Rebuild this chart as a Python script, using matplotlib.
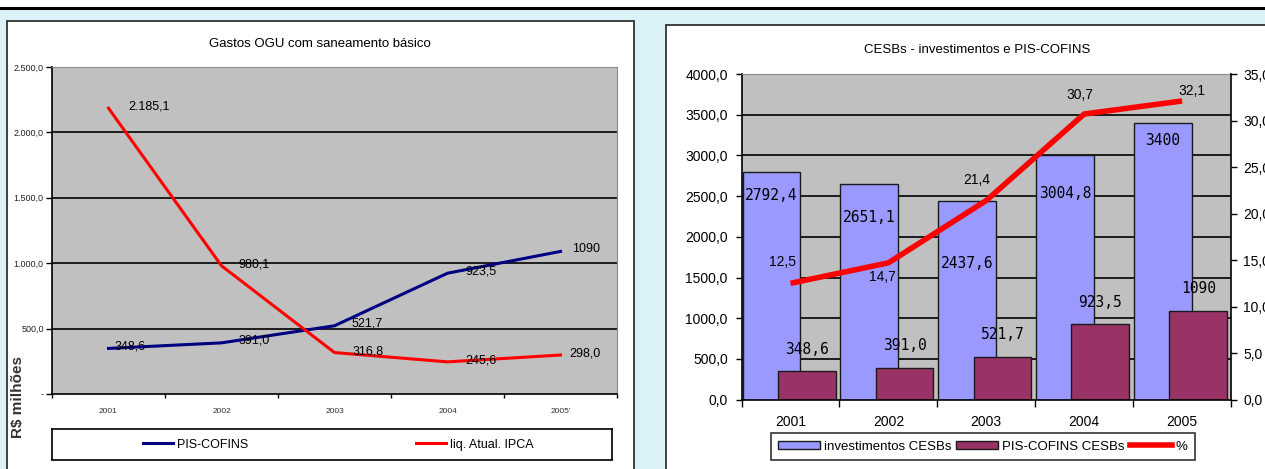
import matplotlib
matplotlib.use("Agg")
import matplotlib.pyplot as plt
from matplotlib.patches import Rectangle, Patch
from matplotlib.lines import Line2D
from matplotlib.ticker import FixedLocator, FuncFormatter, NullFormatter

# ---------------- data ----------------
years_left = ["2001", "2002", "2003", "2004", "2005'"]
pis_cofins = [348.6, 391.0, 521.7, 923.5, 1090]
liq_ipca = [2185.1, 980.1, 316.8, 245.6, 298.0]

years_right = ["2001", "2002", "2003", "2004", "2005"]
invest_cesb = [2792.4, 2651.1, 2437.6, 3004.8, 3400]
pis_cesb = [348.6, 391.0, 521.7, 923.5, 1090]
pct_cesb = [12.5, 14.7, 21.4, 30.7, 32.1]

# ---------------- helpers ----------------
W, H = 1265, 469
SANS = ["Liberation Sans", "DejaVu Sans"]
NARROW = ["Liberation Sans Narrow", "Liberation Sans", "DejaVu Sans"]
MONO = ["DejaVu Sans Mono"]


def fx(px):
    return px / W


def fy(py):
    return 1 - py / H


def br(v, thousands=True):
    """Brazilian number format; integers are shown without decimals."""
    if isinstance(v, int):
        return str(v)
    s = f"{v:,.1f}" if thousands else f"{v:.1f}"
    return s.replace(",", "X").replace(".", ",").replace("X", ".")


fig = plt.figure(figsize=(W / 100, H / 100), dpi=100)
fig.patch.set_facecolor("#dcf2f9")

# slide background pieces
fig.add_artist(Rectangle((0, fy(7)), 1, 7 / H, transform=fig.transFigure,
                         facecolor="white", edgecolor="none", zorder=0))
fig.add_artist(Line2D([0, 1], [fy(8.5), fy(8.5)], transform=fig.transFigure,
                      color="black", lw=2.2, zorder=1))
fig.add_artist(Rectangle((fx(7), fy(480)), fx(634 - 7), (480 - 21) / H,
                         transform=fig.transFigure, facecolor="white",
                         edgecolor="#222222", lw=1.2, zorder=0))
fig.add_artist(Rectangle((fx(666), fy(480)), fx(640), (480 - 25) / H,
                         transform=fig.transFigure, facecolor="white",
                         edgecolor="#222222", lw=1.2, zorder=0))

# =============== left chart: line chart ===============
axl = fig.add_axes([fx(52), fy(394), fx(617 - 52), (394 - 67) / H])
axl.set_facecolor("#c0c0c0")
x = list(range(len(years_left)))
ln_pis, = axl.plot(x, pis_cofins, color="#000080", lw=2.2, zorder=3)
ln_ipca, = axl.plot(x, liq_ipca, color="#ff0000", lw=2.2, zorder=3)
axl.set_xlim(-0.5, 4.5)
axl.set_ylim(0, 2500)
for yv in [500, 1000, 1500, 2000]:
    axl.axhline(yv, color="black", lw=1.2, zorder=1)

axl.yaxis.set_major_locator(FixedLocator([0, 500, 1000, 1500, 2000, 2500]))
axl.yaxis.set_major_formatter(FuncFormatter(lambda v, p: "-" if v == 0 else br(float(v))))
axl.tick_params(axis="y", direction="out", length=4, width=1, pad=2,
                labelsize=6.5, labelcolor="#222222")
axl.xaxis.set_major_locator(FixedLocator([-0.5, 0.5, 1.5, 2.5, 3.5, 4.5]))
axl.xaxis.set_major_formatter(NullFormatter())
axl.xaxis.set_minor_locator(FixedLocator(x))
axl.set_xticklabels(years_left, minor=True)
axl.tick_params(axis="x", which="major", direction="out", length=3, width=1)
axl.tick_params(axis="x", which="minor", length=0, pad=10, labelsize=6,
                labelcolor="#333333")
for lab in axl.get_xticklabels(minor=True) + axl.get_yticklabels():
    lab.set_family(SANS)
for side in ["left", "bottom"]:
    axl.spines[side].set_color("black")
    axl.spines[side].set_linewidth(1.2)
for side in ["top", "right"]:
    axl.spines[side].set_color("#8a8a8a")
    axl.spines[side].set_linewidth(0.8)

# value labels (offsets in points, right of each point)
pis_dx = [4.3, 12.2, 12.2, 13, 8]
ipca_dx = [14.4, 12.2, 13, 13, 6.5]
for i, v in enumerate(pis_cofins):
    axl.annotate(br(v), (i, v), xytext=(pis_dx[i], 1.5), textcoords="offset points",
                 ha="left", va="center", fontsize=9, family=NARROW, color="black",
                 zorder=4)
for i, v in enumerate(liq_ipca):
    axl.annotate(br(v), (i, v), xytext=(ipca_dx[i], 1.0), textcoords="offset points",
                 ha="left", va="center", fontsize=9, family=NARROW, color="black",
                 zorder=4)

fig.text(fx(320), fy(44), "Gastos OGU com saneamento básico", ha="center",
         va="center", fontsize=9.5, family=NARROW)
fig.text(fx(18), fy(397), "R$ milhões", rotation=90, ha="center", va="center",
         fontsize=11, fontweight="bold", family=SANS, color="#333333")

# left legend box with two entries
lax = fig.add_axes([fx(52), fy(460), fx(612 - 52), (460 - 429) / H])
lax.set_xticks([])
lax.set_yticks([])
lax.set_facecolor("white")
for s in lax.spines.values():
    s.set_color("black")
    s.set_linewidth(1.2)
leg_kw = dict(loc="center left", frameon=False, borderpad=0, borderaxespad=0,
              handlelength=2.4, handletextpad=0.3,
              prop={"family": NARROW, "size": 9})
leg_a = lax.legend(handles=[ln_pis], labels=["PIS-COFINS"],
                   bbox_to_anchor=((143 - 52) / 560, 0.5), **leg_kw)
lax.add_artist(leg_a)
lax.legend(handles=[ln_ipca], labels=["liq. Atual. IPCA"],
           bbox_to_anchor=((416 - 52) / 560, 0.5), **leg_kw)

# =============== right chart: bars + percentage line ===============
axr = fig.add_axes([fx(741.6), fy(399.6), fx(1231 - 741.6), (399.6 - 74) / H])
axr.set_facecolor("#c0c0c0")
xr = list(range(len(years_right)))
axr.set_xlim(-0.5, 4.5)
axr.set_ylim(0, 4000)
for yv in range(500, 4000, 500):
    axr.axhline(yv, color="black", lw=1.2, zorder=1)
bars_inv = axr.bar([i - 0.195 for i in xr], invest_cesb, width=0.59,
                   color="#9999ff", edgecolor="#1a1a1a", lw=1, zorder=2)
bars_pis = axr.bar([i + 0.165 for i in xr], pis_cesb, width=0.59,
                   color="#993366", edgecolor="#1a1a1a", lw=1, zorder=2)

axr.yaxis.set_major_locator(FixedLocator(range(0, 4001, 500)))
axr.yaxis.set_major_formatter(FuncFormatter(lambda v, p: br(float(v), thousands=False)))
axr.tick_params(axis="y", direction="out", length=4, width=1, pad=6, labelsize=10)
axr.xaxis.set_major_locator(FixedLocator([-0.5, 0.5, 1.5, 2.5, 3.5, 4.5]))
axr.xaxis.set_major_formatter(NullFormatter())
axr.xaxis.set_minor_locator(FixedLocator(xr))
axr.set_xticklabels(years_right, minor=True)
axr.tick_params(axis="x", which="major", direction="out", length=5, width=1)
axr.tick_params(axis="x", which="minor", length=0, pad=11, labelsize=10)
for lab in axr.get_xticklabels(minor=True) + axr.get_yticklabels():
    lab.set_family(SANS)
for side in ["left", "bottom"]:
    axr.spines[side].set_color("black")
    axr.spines[side].set_linewidth(1.2)
axr.spines["top"].set_color("#8a8a8a")
axr.spines["top"].set_linewidth(0.8)
axr.spines["right"].set_visible(False)

inv_dy = [-16.5, -24.5, -44.6, -28, -13]
for i, v in enumerate(invest_cesb):
    axr.annotate(br(v, thousands=False), (i - 0.195, v), xytext=(0, inv_dy[i]),
                 textcoords="offset points", ha="center", va="center",
                 fontsize=10.5, family=MONO, zorder=4)
for i, v in enumerate(pis_cesb):
    axr.annotate(br(v, thousands=False), (i + 0.165, v), xytext=(0, 16),
                 textcoords="offset points", ha="center", va="center",
                 fontsize=10.5, family=MONO, zorder=4)

ax2 = axr.twinx()
ax2.set_ylim(0, 35)
ax2.patch.set_visible(False)
ln_pct, = ax2.plot(xr, pct_cesb, color="#ff0000", lw=4, zorder=5,
                   solid_capstyle="butt")
ax2.yaxis.set_major_locator(FixedLocator(range(0, 36, 5)))
ax2.yaxis.set_major_formatter(FuncFormatter(lambda v, p: br(float(v), thousands=False)))
ax2.tick_params(axis="y", direction="out", length=4, width=1, pad=5, labelsize=10)
for lab in ax2.get_yticklabels():
    lab.set_family(SANS)
ax2.spines["right"].set_color("black")
ax2.spines["right"].set_linewidth(1.2)
for side in ["top", "left", "bottom"]:
    ax2.spines[side].set_visible(False)

pct_off = [(-6, 15), (-4, -10), (-7, 15), (-3, 14), (7, 7)]
for i, v in enumerate(pct_cesb):
    ax2.annotate(br(v, thousands=False), (i, v), xytext=pct_off[i],
                 textcoords="offset points", ha="center", va="center",
                 fontsize=10, family=NARROW, zorder=6)

fig.text(fx(977), fy(50), "CESBs - investimentos e PIS-COFINS", ha="center",
         va="center", fontsize=9.5, family=NARROW)

handles_r = [Patch(facecolor="#9999ff", edgecolor="#1a1a1a", lw=1),
             Patch(facecolor="#993366", edgecolor="#1a1a1a", lw=1),
             Line2D([], [], color="#ff0000", lw=4)]
leg_r = fig.legend(handles_r, ["investimentos CESBs", "PIS-COFINS CESBs", "%"],
                   loc="upper left", bbox_to_anchor=(fx(770.7), fy(433.3)),
                   ncol=3, frameon=True, fancybox=False, borderpad=0.55,
                   borderaxespad=0, handlelength=3.2, handleheight=0.55,
                   handletextpad=0.3, columnspacing=0.35,
                   prop={"family": SANS, "size": 9.5})
leg_r.get_frame().set_edgecolor("black")
leg_r.get_frame().set_linewidth(1.2)

fig.savefig("out.png", dpi=100, facecolor=fig.get_facecolor())
